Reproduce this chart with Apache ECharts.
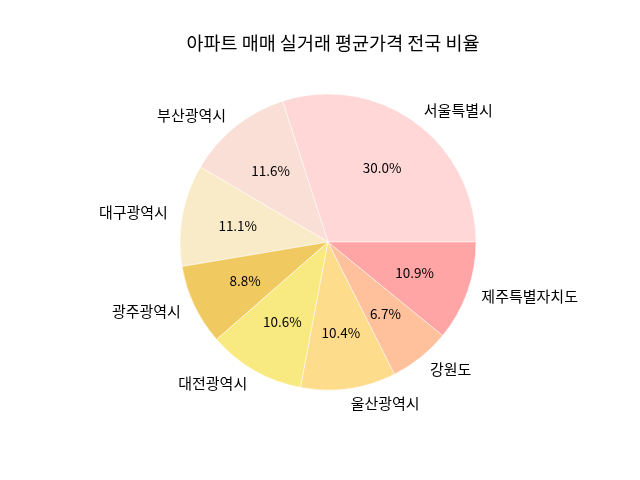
<!DOCTYPE html>
<html><head><meta charset="utf-8">
<script src="https://cdn.jsdelivr.net/npm/echarts@6/dist/echarts.min.js"></script>
<style>html,body{margin:0;padding:0;background:#fff}#c{width:640px;height:480px}</style>
</head><body><div id="c"></div>
<script>
const categories = ['서울특별시','부산광역시','대구광역시','광주광역시','대전광역시','울산광역시','강원도','제주특별자치도'];
const values = [30.0, 11.6, 11.1, 8.8, 10.6, 10.4, 6.7, 10.9];
const colors = ['#FFD7D7','#F9DFD5','#F9EBC8','#F0CA60','#F8EA80','#FDDC8C','#FFC09C','#FFA5A5'];
const titleText = '아파트 매매 실거래 평균가격 전국 비율';
const font = '"Noto Sans CJK KR", "Noto Sans", sans-serif';
const R = 148, cx = 328, cy = 242;
const total = values.reduce((a,b)=>a+b,0);
const chart = echarts.init(document.getElementById('c'), null, {renderer:'canvas'});
chart.setOption({
  animation:false,
  title:{text:titleText,left:cx,textAlign:'center',top:29,textStyle:{fontFamily:font,fontSize:18.5,fontWeight:'normal',color:'#000'}},
  series:[
    {type:'pie',center:[cx,cy],radius:[0,R],startAngle:0,clockwise:false,avoidLabelOverlap:false,silent:true,
     data:categories.map((n,i)=>({name:n,value:values[i],itemStyle:{color:colors[i]}})),
     itemStyle:{borderColor:'#fff',borderWidth:0.5},
     label:{show:true,position:'outside',formatter:'{b}',fontFamily:font,fontSize:15,color:'#000',distanceToLabelLine:0,alignTo:'none'},
     labelLine:{show:false,length:R*0.1,length2:0},
     emphasis:{disabled:true}},
    {type:'pie',center:[cx,cy],radius:[0,R*1.2],startAngle:0,clockwise:false,avoidLabelOverlap:false,silent:true,
     data:categories.map((n,i)=>({name:n,value:values[i]})),
     itemStyle:{color:'rgba(0,0,0,0)'},
     label:{show:true,position:'inside',formatter:p=>(p.value/total*100).toFixed(1)+'%',fontFamily:font,fontSize:13.5,color:'#000'},
     labelLine:{show:false},
     emphasis:{disabled:true}}
  ]
});
</script></body></html>
